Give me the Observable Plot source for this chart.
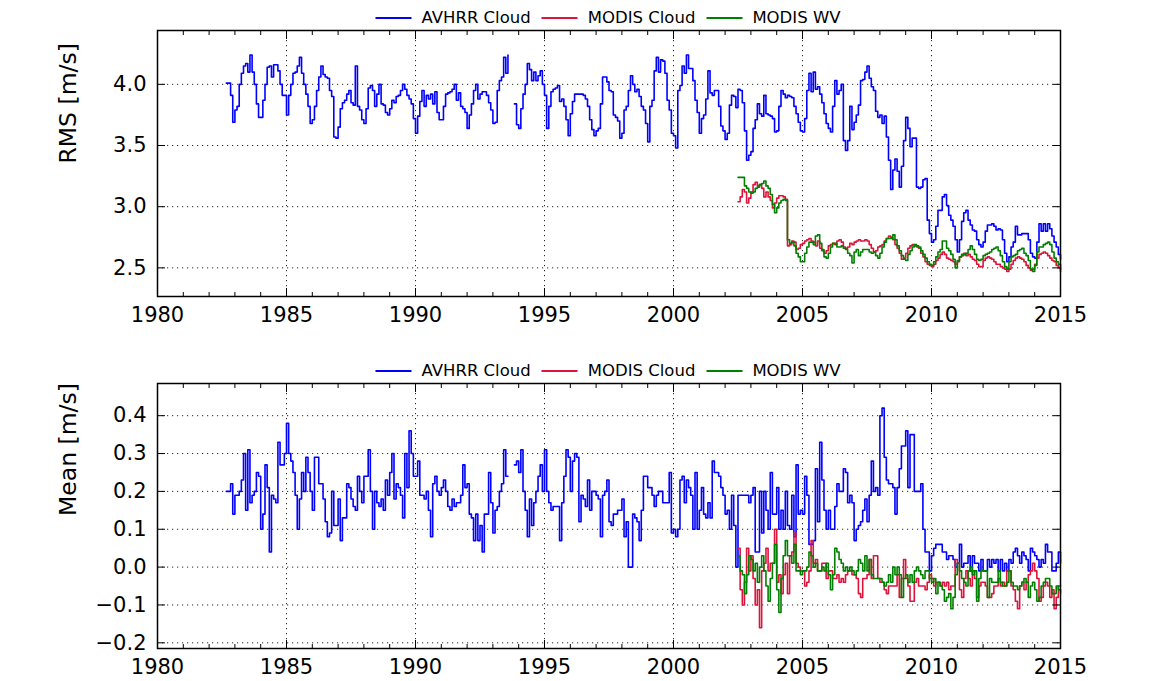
<!DOCTYPE html>
<html>
<head>
<meta charset="utf-8">
<script src="https://cdn.jsdelivr.net/npm/d3@7"></script>
<script src="https://cdn.jsdelivr.net/npm/@observablehq/plot@0.6"></script>
<style>
  html, body { margin: 0; padding: 0; background: #fff; }
  #chart { position: relative; width: 1172px; height: 681px; overflow: hidden; font-family: "DejaVu Sans", sans-serif; }
  .panel { position: absolute; left: 0; }
  .legend { position: absolute; left: 608px; transform: translateX(-50%); display: flex; align-items: center; gap: 11px;
            font-size: 16.5px; line-height: 20px; color: #000; white-space: nowrap; }
  .legend .item { display: flex; align-items: center; gap: 10px; }
  .legend .swatch { display: inline-block; width: 36px; height: 2px; }
</style>
</head>
<body>
<div id="chart"></div>
<script>
// Monthly series: AVHRR begins Sep 1982, MODIS begins Jul 2002 (null = missing month)
const avhrrStart = 1982 + 8 / 12;
const modisStart = 2002 + 6 / 12;

const seriesNames = ["AVHRR Cloud", "MODIS Cloud", "MODIS WV"];
const seriesColors = ["#0000ff", "#dc143c", "#008000"];

const avhrrRms = [
  4.01, 4.01, 3.91, 3.69, 3.79, 3.82, 4.0, 4.09, 4.15, 4.17,
  4.10, 4.24, 4.10, 4.0, 3.84, 3.73, 3.73, 3.87, 4.0, 4.14,
  4.15, 4.06, 4.16, 4.16, 4.11, 4.0, 3.91, 3.91, 3.75, 3.91,
  4.0, 4.09, 4.1, 4.15, 4.22, 4.09, 4.0, 3.92, 3.82, 3.68,
  3.71, 3.82, 3.95, 4.06, 4.15, 4.08, 4.06, 4.05, 3.95, 3.9,
  3.57, 3.56, 3.65, 3.8, 3.85, 3.87, 3.92, 3.95, 3.85, 3.83,
  4.15, 3.82, 3.79, 3.71, 3.68, 3.80, 3.97, 3.99, 3.95, 3.82,
  3.92, 4.0, 3.84, 3.83, 3.77, 3.75, 3.80, 3.87, 3.85, 3.9,
  3.91, 3.95, 4.0, 3.96, 3.91, 3.88, 3.84, 3.72, 3.6, 3.74,
  3.86, 3.95, 3.82, 3.91, 3.88, 3.92, 3.84, 3.94, 3.77, 3.71,
  3.71, 3.82, 3.92, 3.93, 3.94, 3.96, 4.0, 3.87, 3.93, 3.82,
  3.80, 3.77, 3.64, 3.75, 3.84, 3.95, 4.0, 3.88, 3.92, 3.94,
  3.94, 3.91, 3.85, 3.79, 3.68, 3.69, 3.95, 4.03, 4.06, 4.22,
  4.09, 4.24, null, null, 3.84, 3.67, 3.64, 3.80, 3.92, 4.0,
  4.17, 4.12, 4.03, 4.1, 4.03, 4.07, 4.11, 4.0, 3.91, 3.64,
  3.82, 3.94, 3.96, 3.97, 3.99, 3.86, 3.88, 3.82, 3.71, 3.58,
  3.76, 3.86, 3.92, 3.92, 3.92, 3.92, 3.91, 3.88, 3.82, 3.71,
  3.63, 3.58, 3.62, 3.64, 3.84, 4.06, 4.06, 4.02, 3.95, 3.94,
  3.75, 3.73, 3.7, 3.56, 3.6, 3.79, 3.82, 3.95, 4.07, 4.0,
  3.94, 3.96, 3.9, 3.82, 3.79, 3.68, 3.53, 3.82, 3.87, 4.11,
  4.22, 4.1, 4.2, 4.19, 4.09, 3.87, 3.79, 3.6, 3.58, 3.48,
  3.95, 3.99, 4.15, 4.09, 4.24, 4.13, 4.13, 4.03, 3.87, 3.77,
  3.6, 3.72, 3.75, 3.88, 4.11, 3.93, 3.91, 3.95, 3.95, 3.82,
  3.66, 3.62, 3.55, 3.6, 3.83, 3.91, 3.9, 3.81, 3.96, 3.95,
  3.85, 3.62, 3.38, 3.42, 3.45, 3.64, 3.71, 3.84, 3.76, 3.74,
  3.91, 3.76, 3.75, 3.74, 3.72, 3.61, 3.62, 3.82, 3.95, 3.92,
  3.89, 3.91, 3.9, 3.89, 3.82, 3.76, 3.69, 3.62, 3.61, 3.72,
  3.95, 4.09, 3.94, 4.1, 3.96, 3.98, 3.92, 3.85, 3.76, 3.68,
  3.64, 3.61, 3.82, 4.03, 3.92, 3.95, 4.0, 3.54, 3.46, 3.54,
  3.82, 3.63, 3.69, 3.75, 3.83, 4.03, 4.04, 4.1, 4.15, 4.05,
  3.98, 3.95, 3.78, 3.73, 3.75, 3.68, 3.74, 3.57, 3.38, 3.14,
  3.30, 3.39, 3.29, 3.16, 3.33, 3.54, 3.73, 3.64, 3.49, 3.56,
  3.56, 3.16, 3.15, 3.16, 3.22, 3.23, 2.89, 2.78, 2.71, 2.73,
  2.84, 2.97, 2.97, 3.08, 3.1, 3.01, 2.93, 2.89, 2.84, 2.73,
  2.63, 2.73, 2.88, 2.95, 2.97, 2.89, 2.85, 2.81, 2.8, 2.73,
  2.69, 2.67, 2.71, 2.8, 2.85, 2.85, 2.86, 2.84, 2.81, 2.82,
  2.81, 2.73, 2.62, 2.55, 2.59, 2.67, 2.71, 2.84, 2.77, 2.77,
  2.78, 2.78, 2.78, 2.73, 2.62, 2.59, 2.58, 2.71, 2.86, 2.8,
  2.86, 2.8, 2.86, 2.82, 2.76, 2.71, 2.67, 2.61, 2.57
];

const modisCloudRms = [
  3.04, 3.08, 3.14, 3.12, 3.03, 3.07, 3.12, 3.18, 3.2, 3.17,
  3.18, 3.15, 3.08, 3.12, 3.08, 3.05, 2.99, 3.03, 3.07, 3.09,
  3.09, 3.08, 3.06, 2.68, 2.69, 2.72, 2.71, 2.65, 2.66, 2.69,
  2.7, 2.72, 2.73, 2.74, 2.72, 2.71, 2.68, 2.72, 2.66, 2.65,
  2.62, 2.64, 2.68, 2.69, 2.7, 2.69, 2.72, 2.73, 2.71, 2.67,
  2.66, 2.67, 2.7, 2.69, 2.71, 2.72, 2.73, 2.72, 2.72, 2.73,
  2.72, 2.69, 2.66, 2.63, 2.64, 2.67, 2.68, 2.69, 2.72, 2.74,
  2.76, 2.75, 2.73, 2.69, 2.66, 2.62, 2.57, 2.58, 2.62, 2.66,
  2.68, 2.69, 2.68, 2.67, 2.66, 2.62, 2.59, 2.55, 2.53, 2.52,
  2.51, 2.53, 2.56, 2.58, 2.61, 2.63, 2.61, 2.58, 2.57, 2.56,
  2.55, 2.53, 2.55, 2.59, 2.6, 2.62, 2.6, 2.61, 2.59, 2.57,
  2.56, 2.53, 2.51, 2.51, 2.56, 2.58, 2.59, 2.58, 2.57, 2.55,
  2.53, 2.53, 2.51, 2.5, 2.49, 2.47, 2.49, 2.53, 2.56, 2.58,
  2.59, 2.58, 2.57, 2.55, 2.52, 2.5, 2.48, 2.49, 2.53, 2.58,
  2.61, 2.62, 2.63, 2.62, 2.6, 2.58, 2.56, 2.55, 2.52, 2.5, 2.47
];

const modisWvRms = [
  3.24, 3.24, 3.24, 3.17, 3.15, 3.12, 3.11, 3.12, 3.15, 3.16,
  3.18, 3.19, 3.21, 3.17, 3.15, 3.1, 3.02, 2.95, 2.99, 3.03,
  3.05, 3.06, 3.05, 2.73, 2.70, 2.71, 2.68, 2.62, 2.59, 2.55,
  2.55, 2.62, 2.67, 2.71, 2.71, 2.69, 2.76, 2.77, 2.7, 2.64,
  2.59, 2.58, 2.62, 2.67, 2.7, 2.7, 2.67, 2.67, 2.68, 2.66,
  2.65, 2.62, 2.6, 2.54, 2.63, 2.65, 2.6, 2.63, 2.65, 2.65,
  2.65, 2.63, 2.62, 2.63, 2.6, 2.58, 2.62, 2.67, 2.71, 2.74,
  2.74, 2.74, 2.77, 2.73, 2.68, 2.64, 2.6, 2.57, 2.56, 2.61,
  2.64, 2.67, 2.69, 2.68, 2.67, 2.64, 2.61, 2.58, 2.55, 2.53,
  2.52, 2.55, 2.59, 2.63, 2.65, 2.72, 2.72, 2.66, 2.64, 2.61,
  2.57, 2.5, 2.56, 2.59, 2.61, 2.61, 2.62, 2.65, 2.68, 2.65,
  2.61, 2.57, 2.56, 2.57, 2.6, 2.61, 2.62, 2.63, 2.65, 2.66,
  2.67, 2.64, 2.6, 2.55, 2.51, 2.49, 2.55, 2.59, 2.6, 2.61,
  2.64, 2.65, 2.66, 2.62, 2.6, 2.56, 2.49, 2.47, 2.52, 2.63,
  2.67, 2.67, 2.69, 2.70, 2.71, 2.69, 2.63, 2.58, 2.55, 2.53, 2.49
];

const avhrrMean = [
  0.20, 0.20, 0.22, 0.14, 0.19, 0.19, 0.20, 0.23, 0.30, 0.15,
  0.31, 0.17, 0.19, 0.20, 0.25, 0.24, 0.10, 0.14, 0.27, 0.21,
  0.04, 0.19, 0.18, 0.17, 0.33, 0.27, 0.27, 0.30, 0.38, 0.30,
  0.28, 0.25, 0.19, 0.10, 0.18, 0.25, 0.20, 0.29, 0.25, 0.20,
  0.15, 0.29, 0.29, 0.22, 0.22, 0.18, 0.12, 0.08, 0.09, 0.20,
  0.11, 0.11, 0.18, 0.07, 0.13, 0.13, 0.22, 0.21, 0.18, 0.16,
  0.15, 0.24, 0.20, 0.17, 0.24, 0.24, 0.31, 0.20, 0.10, 0.20,
  0.17, 0.16, 0.18, 0.15, 0.23, 0.19, 0.25, 0.30, 0.18, 0.22,
  0.21, 0.19, 0.13, 0.30, 0.21, 0.36, 0.30, 0.24, 0.24, 0.28,
  0.19, 0.19, 0.18, 0.20, 0.15, 0.08, 0.22, 0.24, 0.20, 0.19,
  0.21, 0.23, 0.20, 0.16, 0.15, 0.18, 0.16, 0.17, 0.17, 0.19,
  0.27, 0.21, 0.22, 0.14, 0.13, 0.07, 0.14, 0.07, 0.11, 0.04,
  0.14, 0.14, 0.25, 0.17, 0.09, 0.15, 0.16, 0.20, 0.22, 0.31,
  0.24, 0.24, null, null, 0.27, 0.28, 0.25, 0.31, 0.20, 0.15,
  0.08, 0.18, 0.11, 0.17, 0.20, 0.24, 0.27, 0.20, 0.31, 0.20,
  0.17, 0.15, 0.16, 0.16, 0.16, 0.07, 0.17, 0.24, 0.31, 0.29,
  0.20, 0.28, 0.30, 0.29, 0.12, 0.19, 0.18, 0.16, 0.23, 0.15,
  0.20, 0.20, 0.19, 0.18, 0.08, 0.19, 0.20, 0.23, 0.12, 0.11,
  0.14, 0.14, 0.15, 0.15, 0.18, 0.08, 0.12, 0.00, 0.00, 0.14,
  0.13, 0.12, 0.07, 0.15, 0.24, 0.24, 0.21, 0.21, 0.19, 0.16,
  0.19, 0.20, 0.20, 0.17, 0.17, 0.17, 0.25, 0.09, 0.10, 0.08,
  0.10, 0.23, 0.24, 0.17, 0.23, 0.21, 0.19, 0.10, 0.25, 0.10,
  0.15, 0.21, 0.14, 0.13, 0.17, 0.13, 0.28, 0.25, 0.25, 0.24,
  0.21, 0.19, 0.14, 0.15, 0.10, 0.19, 0.11, 0.00, 0.19, 0.19,
  0.19, 0.19, 0.19, 0.17, 0.19, 0.21, 0.04, 0.04, 0.20, 0.09,
  0.20, 0.15, 0.10, 0.25, 0.14, 0.14, 0.21, 0.10, 0.15, 0.10,
  0.20, 0.11, 0.10, 0.19, 0.08, 0.27, 0.14, 0.15, 0.14, 0.24,
  0.19, 0.06, 0.06, 0.07, 0.26, 0.12, 0.33, 0.23, 0.15, 0.10,
  0.15, 0.10, 0.10, 0.16, 0.22, 0.20, 0.20, 0.26, 0.25, 0.17,
  0.19, 0.17, 0.07, 0.10, 0.11, 0.12, 0.15, 0.18, 0.12, 0.19,
  0.28, 0.20, 0.21, 0.19, 0.40, 0.42, 0.29, 0.23, 0.22, 0.22,
  0.21, 0.14, 0.21, 0.26, 0.32, 0.32, 0.36, 0.21, 0.35, 0.35,
  0.20, 0.20, 0.20, 0.22, 0.10, 0.04, 0.04, -0.01, 0.03, 0.05,
  0.06, 0.06, 0.06, 0.04, 0.04, 0.02, 0.03, 0.03, 0.02, 0.00,
  0.01, 0.06, 0.00, 0.01, 0.01, 0.03, -0.01, 0.03, 0.01, 0.01,
  -0.01, 0.02, -0.01, -0.01, 0.02, 0.00, 0.02, 0.01, 0.02, -0.01,
  0.02, -0.01, 0.01, -0.01, 0.02, 0.01, 0.04, 0.05, 0.03, 0.01,
  0.04, 0.03, 0.02, -0.01, 0.05, 0.04, 0.03, 0.02, 0.00, 0.02,
  0.01, 0.06, 0.04, 0.04, -0.01, -0.01, 0.01, 0.04, 0.01
];

const modisCloudMean = [
  0.05, -0.06, -0.10, -0.04, 0.05, -0.01, 0.03, -0.03, -0.10, -0.06,
  -0.16, -0.01, 0.01, 0.05, -0.01, 0.01, 0.01, 0.10, -0.04, -0.02,
  -0.07, -0.02, 0.01, -0.07, 0.03, 0.04, 0.09, 0.01, 0.00, -0.01,
  -0.01, -0.05, -0.04, -0.01, 0.07, 0.01, 0.02, -0.01, -0.01, 0.01,
  0.01, -0.03, -0.01, -0.01, -0.03, -0.03, -0.02, -0.04, -0.03, -0.04,
  -0.02, -0.01, -0.01, -0.02, -0.02, -0.03, -0.07, -0.08, -0.03, -0.03,
  -0.02, 0.02, -0.03, 0.03, 0.03, -0.03, -0.04, -0.04, -0.06, -0.07,
  -0.05, -0.05, -0.05, -0.05, -0.02, -0.08, -0.03, 0.02, -0.03, -0.05,
  -0.09, -0.09, -0.04, -0.03, -0.05, -0.05, -0.05, -0.06, -0.04, -0.02,
  -0.03, -0.05, -0.04, -0.04, -0.05, -0.04, -0.05, -0.04, -0.06, -0.05,
  -0.05, 0.02, 0.01, -0.06, -0.08, -0.03, -0.01, -0.03, -0.05, -0.01,
  -0.03, -0.08, -0.05, -0.04, -0.04, -0.05, -0.08, -0.08, -0.07, -0.05,
  -0.05, -0.03, -0.05, -0.04, -0.05, -0.01, -0.01, -0.05, -0.06, -0.09,
  -0.11, -0.05, -0.04, -0.06, -0.04, -0.02, -0.01, 0.01, -0.01, -0.03,
  -0.09, -0.08, -0.05, -0.04, -0.05, -0.08, -0.06, -0.11, -0.08, -0.05, -0.05
];

const modisWvMean = [
  0.03, -0.01, -0.02, -0.07, -0.02, 0.03, 0.02, -0.01, 0.01, -0.04,
  0.00, 0.03, -0.01, -0.05, -0.09, -0.03, 0.01, 0.06, -0.06, -0.12,
  -0.03, 0.03, 0.07, 0.03, 0.03, 0.01, 0.06, -0.01, -0.01, -0.02,
  -0.01, -0.01, 0.00, 0.04, 0.03, 0.00, 0.01, -0.01, -0.01, 0.00,
  -0.01, 0.01, -0.02, -0.06, -0.02, 0.05, 0.04, 0.02, 0.01, -0.01,
  0.00, -0.01, 0.00, -0.01, -0.02, -0.01, 0.02, 0.01, -0.01, 0.03,
  -0.01, 0.02, -0.02, -0.03, -0.03, -0.03, -0.03, -0.04, -0.05, -0.04,
  -0.02, -0.04, 0.00, -0.02, 0.00, -0.02, -0.08, -0.03, -0.02, -0.04,
  -0.02, -0.04, -0.01, 0.00, -0.01, -0.02, -0.03, -0.01, -0.01, -0.03,
  -0.04, -0.03, -0.07, -0.04, -0.05, -0.06, -0.09, -0.08, -0.07, -0.11,
  -0.08, -0.02, 0.01, -0.01, -0.03, -0.04, -0.05, -0.01, 0.00, -0.02,
  -0.01, -0.09, -0.03, -0.01, -0.01, -0.01, -0.08, -0.03, -0.04, -0.04,
  -0.04, -0.01, -0.04, -0.05, -0.05, -0.04, -0.01, -0.04, -0.05, -0.05,
  -0.06, -0.05, -0.04, -0.03, -0.04, -0.08, -0.05, -0.04, -0.06, -0.09,
  -0.08, -0.05, -0.04, -0.03, -0.03, -0.05, -0.07, -0.07, -0.05, -0.06, -0.07
];

// Axis ticks
const majorYears = [1980, 1985, 1990, 1995, 2000, 2005, 2010, 2015];
const minorYears = d3.range(1980, 2016);
const rmsTicks = [2.5, 3.0, 3.5, 4.0];
const meanTicks = [-0.2, -0.1, 0.0, 0.1, 0.2, 0.3, 0.4];

function monthly(start, values, name) {
  return values.map((v, i) => ({ t: start + i / 12, v, name }));
}

function legend(top) {
  const box = document.createElement("div");
  box.className = "legend";
  box.style.top = top + "px";
  seriesNames.forEach((n, i) => {
    const item = document.createElement("div");
    item.className = "item";
    const sw = document.createElement("span");
    sw.className = "swatch";
    sw.style.background = seriesColors[i];
    const tx = document.createElement("span");
    tx.textContent = n;
    item.append(sw, tx);
    box.append(item);
  });
  return box;
}

function panel({ series, yDomain, yTicks, label, marginTop, marginBottom, height }) {
  const blank = () => "";
  const lines = series.map((s, i) =>
    Plot.line(s, { x: "t", y: "v", stroke: seriesColors[i], strokeWidth: 1.6, curve: "step-after" })
  );
  return Plot.plot({
    width: 1172,
    height,
    marginLeft: 157,
    marginRight: 112,
    marginTop,
    marginBottom,
    style: { fontFamily: "DejaVu Sans, sans-serif", fontSize: "21px", color: "#000", background: "transparent", overflow: "visible" },
    x: { domain: [1980, 2015], label: null },
    y: { domain: yDomain, label: null },
    marks: [
      Plot.gridX(majorYears, { stroke: "#000", strokeOpacity: 0.85, strokeDasharray: "1.2,3.8" }),
      Plot.gridY(yTicks, { stroke: "#000", strokeOpacity: 0.85, strokeDasharray: "1.2,3.8" }),
      ...lines,
      Plot.axisX(majorYears, { anchor: "bottom", tickSize: -8, tickPadding: 19, tickFormat: d => String(d), label: null }),
      Plot.axisX(minorYears, { anchor: "bottom", tickSize: -4, tickFormat: blank, label: null }),
      Plot.axisX(majorYears, { anchor: "top", tickSize: -8, tickFormat: blank, label: null }),
      Plot.axisX(minorYears, { anchor: "top", tickSize: -4, tickFormat: blank, label: null }),
      Plot.axisY(yTicks, { anchor: "left", tickSize: -8, tickPadding: 19, tickFormat: d3.format(".1f"), label: null }),
      Plot.axisY(yTicks, { anchor: "right", tickSize: -8, tickFormat: blank, label: null }),
      Plot.frame({ stroke: "#000", strokeWidth: 1.5 }),
      Plot.text([label], { text: d => d, frameAnchor: "left", dx: -89, rotate: -90, fontSize: 23.5 })
    ]
  });
}

const chart = document.getElementById("chart");

const top1 = document.createElement("div");
top1.className = "panel";
top1.style.top = "0px";
top1.append(panel({
  series: [
    monthly(avhrrStart, avhrrRms, seriesNames[0]),
    monthly(modisStart, modisCloudRms, seriesNames[1]),
    monthly(modisStart, modisWvRms, seriesNames[2])
  ],
  yDomain: [2.266, 4.44],
  yTicks: rmsTicks,
  label: "RMS [m/s]",
  marginTop: 30,
  marginBottom: 40,
  height: 336
}));

const bottom1 = document.createElement("div");
bottom1.className = "panel";
bottom1.style.top = "340px";
bottom1.append(panel({
  series: [
    monthly(avhrrStart, avhrrMean, seriesNames[0]),
    monthly(modisStart, modisCloudMean, seriesNames[1]),
    monthly(modisStart, modisWvMean, seriesNames[2])
  ],
  yDomain: [-0.215, 0.485],
  yTicks: meanTicks,
  label: "Mean [m/s]",
  marginTop: 43,
  marginBottom: 33,
  height: 341
}));

chart.append(top1, bottom1, legend(8), legend(361));
</script>
</body>
</html>
